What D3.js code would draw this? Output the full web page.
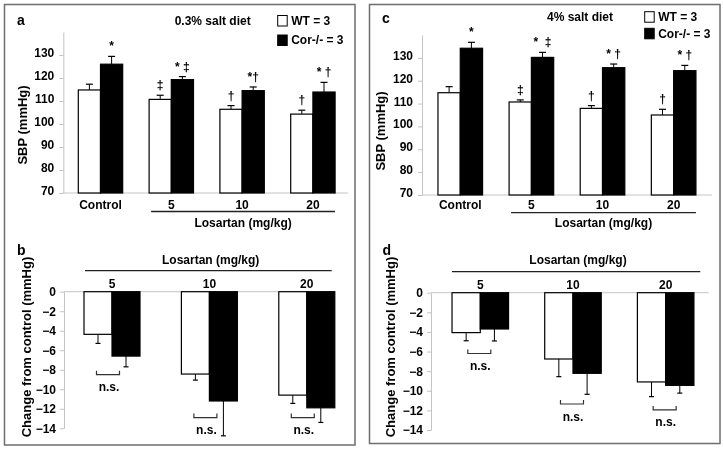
<!DOCTYPE html>
<html>
<head>
<meta charset="utf-8">
<script src="https://cdn.jsdelivr.net/npm/d3@7"></script>
<style>
  html, body { margin: 0; padding: 0; background: #fff; }
  svg { display: block; will-change: transform; }
  text { font-family: "Liberation Sans", Arial, Helvetica, sans-serif; font-weight: bold; fill: #000; }
</style>
</head>
<body>
<svg id="chart" width="724" height="450"></svg>
<script>
// ---------- data ----------
const categoriesTop = ["Control", "5", "10", "20"];
const doses = ["5", "10", "20"];
const seriesKeys = ["WT", "Cor"];
const legendLabels = ["WT = 3", "Cor-/- = 3"];
const yTicksTop = [70, 80, 90, 100, 110, 120, 130];
const yTicksChange = [0, -2, -4, -6, -8, -10, -12, -14];
const doseTitle = "Losartan (mg/kg)";
const changeLabel = "Change from control (mmHg)";
const sbpLabel = "SBP (mmHg)";

// panel a: 0.3% salt diet
const a_wt = [114.8, 110.7, 106.4, 104.3];
const a_wtErr = [2.5, 1.8, 1.6, 1.7];
const a_cor = [126.0, 119.3, 114.5, 113.9];
const a_corErr = [3.4, 1.3, 1.6, 4.2];
const a_sigWT = ["", "‡", "†", "†"];
const a_sigCor = ["*", "* ‡", "*†", "* †"];

// panel c: 4% salt diet
const c_wt = [114.75, 110.7, 107.9, 105.0];
const c_wtErr = [2.65, 0.9, 1.2, 2.5];
const c_cor = [134.2, 130.2, 125.7, 124.4];
const c_corErr = [2.6, 2.2, 1.6, 2.3];
const c_sigWT = ["", "‡", "†", "†"];
const c_sigCor = ["*", "*  ‡", "* †", "* †"];

// panel b: change, 0.3% salt
const b_wt = [-4.37, -8.44, -10.6];
const b_wtErr = [0.93, 0.62, 0.85];
const b_cor = [-6.6, -11.2, -11.9];
const b_corErr = [1.1, 3.57, 1.5];
const b_nsY = [-8.5, -12.9, -12.9];

// panel d: change, 4% salt
const d_wt = [-4.07, -6.76, -9.1];
const d_wtErr = [0.83, 1.8, 1.5];
const d_cor = [-3.7, -8.22, -9.45];
const d_corErr = [1.22, 2.14, 0.79];
const d_nsY = [-6.2, -11.35, -11.95];

// ---------- drawing ----------
const svg = d3.select("#chart");
const AXIS_GRAY = "#c4c4c4";

// panel frames
svg.append("rect").attr("x", 4.5).attr("y", 4.5).attr("width", 350.5).attr("height", 440.5)
  .attr("fill", "none").attr("stroke", "#6e6e6e").attr("stroke-width", 1.5);
svg.append("rect").attr("x", 369.5).attr("y", 4.5).attr("width", 350.5).attr("height", 439)
  .attr("fill", "none").attr("stroke", "#6e6e6e").attr("stroke-width", 1.5);

function styleAxis(g) {
  g.select(".domain").attr("stroke", AXIS_GRAY).attr("stroke-width", 1);
  g.selectAll(".tick line").attr("stroke", AXIS_GRAY);
  g.selectAll(".tick text").attr("font-size", 12).attr("font-weight", "bold")
    .attr("font-family", "Liberation Sans, Arial, sans-serif").attr("fill", "#000");
}

function drawTop(p) {
  const g = svg.append("g");
  const y = d3.scaleLinear().domain([70, 140]).range(p.yRange);
  const x = d3.scaleBand().domain(categoriesTop).range(p.xRange).paddingInner(0.373).paddingOuter(0.1865);
  const xs = d3.scaleBand().domain(seriesKeys).range([0, x.bandwidth()]);

  const ax = g.append("g").attr("transform", `translate(${p.axisX},0)`)
    .call(d3.axisLeft(y).tickValues(yTicksTop).tickSize(4).tickSizeOuter(0).tickPadding(5));
  styleAxis(ax);
  ax.selectAll(".tick text").attr("dy", "0.12em");
  g.append("line").attr("x1", p.axisX).attr("x2", p.baseEnd).attr("y1", y(70)).attr("y2", y(70))
    .attr("stroke", AXIS_GRAY);

  const rows = categoriesTop.map((c, i) => ({
    c,
    items: [
      { k: "WT", v: p.wt[i], e: p.wtErr[i], s: p.sigWT[i] },
      { k: "Cor", v: p.cor[i], e: p.corErr[i], s: p.sigCor[i] }
    ]
  }));
  rows.forEach(r => {
    r.items.forEach(it => {
      const bx = x(r.c) + xs(it.k);
      const bw = xs.bandwidth();
      const cx = bx + bw / 2;
      g.append("line").attr("x1", cx).attr("x2", cx).attr("y1", y(it.v)).attr("y2", y(it.v + it.e))
        .attr("stroke", "#000").attr("stroke-width", 1);
      g.append("line").attr("x1", cx - 3.5).attr("x2", cx + 3.5).attr("y1", y(it.v + it.e)).attr("y2", y(it.v + it.e))
        .attr("stroke", "#000").attr("stroke-width", 1.2);
      g.append("rect").attr("x", bx).attr("y", y(it.v)).attr("width", bw).attr("height", y(70) - y(it.v))
        .attr("fill", it.k === "WT" ? "#fff" : "#000").attr("stroke", "#000").attr("stroke-width", 1.2);
      if (it.s) {
        g.append("text").attr("x", cx).attr("y", y(it.v + it.e) - 6).attr("text-anchor", "middle")
          .attr("font-size", 12).style("white-space", "pre").attr("xml:space", "preserve").text(it.s);
      }
    });
    g.append("text").attr("x", x(r.c) + x.bandwidth() / 2).attr("y", p.catY).attr("text-anchor", "middle")
      .attr("font-size", 12).text(r.c);
  });

  const lx1 = x("5") + 2, lx2 = x("20") + x.bandwidth();
  g.append("line").attr("x1", lx1).attr("x2", lx2).attr("y1", p.lineY).attr("y2", p.lineY)
    .attr("stroke", "#222").attr("stroke-width", 1.3);
  g.append("text").attr("x", (lx1 + lx2) / 2).attr("y", p.losY).attr("text-anchor", "middle")
    .attr("font-size", 12).text(doseTitle);

  g.append("text").attr("transform", `translate(${p.yLabX},${p.yLabY}) rotate(-90)`)
    .attr("text-anchor", "middle").attr("font-size", 13).text(sbpLabel);

  g.append("text").attr("x", p.titleX).attr("y", p.titleY).attr("text-anchor", "middle")
    .attr("font-size", 12).text(p.title);
  g.append("text").attr("x", p.letterX).attr("y", p.letterY).attr("font-size", 14).text(p.letter);

  legendLabels.forEach((lab, i) => {
    const ly = p.legY[i];
    g.append("rect").attr("x", p.legX).attr("y", ly - 5).attr("width", 9.5).attr("height", 10.5)
      .attr("fill", i === 0 ? "#fff" : "#000").attr("stroke", "#000").attr("stroke-width", 1);
    g.append("text").attr("x", p.legX + 13.5).attr("y", ly + 4.3).attr("font-size", 12).text(lab);
  });
}

function drawChange(p) {
  const g = svg.append("g");
  const y = d3.scaleLinear().domain([-14, 0]).range(p.yRange);
  const x = d3.scaleBand().domain(doses).range(p.xRange).paddingInner(p.pad).paddingOuter(p.pad / 2);
  const xs = d3.scaleBand().domain(seriesKeys).range([0, x.bandwidth()]);

  const ax = g.append("g").attr("transform", `translate(${p.axisX},0)`)
    .call(d3.axisLeft(y).tickValues(yTicksChange).tickSize(4).tickSizeOuter(0).tickPadding(4));
  styleAxis(ax);
  g.append("line").attr("x1", p.axisX).attr("x2", p.zeroEnd).attr("y1", y(0)).attr("y2", y(0))
    .attr("stroke", AXIS_GRAY);

  doses.forEach((dz, i) => {
    const items = [
      { k: "WT", v: p.wt[i], e: p.wtErr[i] },
      { k: "Cor", v: p.cor[i], e: p.corErr[i] }
    ];
    items.forEach(it => {
      const bx = x(dz) + xs(it.k);
      const bw = xs.bandwidth();
      const cx = bx + bw / 2;
      g.append("line").attr("x1", cx).attr("x2", cx).attr("y1", y(it.v)).attr("y2", y(it.v - it.e))
        .attr("stroke", "#000").attr("stroke-width", 1);
      g.append("line").attr("x1", cx - 2.5).attr("x2", cx + 2.5).attr("y1", y(it.v - it.e)).attr("y2", y(it.v - it.e))
        .attr("stroke", "#000").attr("stroke-width", 1.2);
      g.append("rect").attr("x", bx).attr("y", y(0)).attr("width", bw).attr("height", y(it.v) - y(0))
        .attr("fill", it.k === "WT" ? "#fff" : "#000").attr("stroke", "#000").attr("stroke-width", 1.2);
    });
    const gc = x(dz) + x.bandwidth() / 2 + p.bracketShift;
    const by = y(p.ns[i]);
    g.append("path").attr("d", `M${gc - 11.5},${by - 4}V${by}H${gc + 11.5}V${by - 4}`)
      .attr("fill", "none").attr("stroke", "#333").attr("stroke-width", 1.2);
    g.append("text").attr("x", gc + 1).attr("y", by + 16.5).attr("text-anchor", "middle")
      .attr("font-size", 12).text("n.s.");
    g.append("text").attr("x", x(dz) + x.bandwidth() / 2).attr("y", p.doseY).attr("text-anchor", "middle")
      .attr("font-size", 12).text(dz);
  });

  g.append("line").attr("x1", p.lineX[0]).attr("x2", p.lineX[1]).attr("y1", p.lineY).attr("y2", p.lineY)
    .attr("stroke", "#222").attr("stroke-width", 1.3);
  g.append("text").attr("x", p.losX).attr("y", p.losY).attr("text-anchor", "middle")
    .attr("font-size", 12).text(doseTitle);
  g.append("text").attr("transform", `translate(${p.yLabX},${p.yLabY}) rotate(-90)`)
    .attr("text-anchor", "middle").attr("font-size", 13).text(changeLabel);
  g.append("text").attr("x", p.letterX).attr("y", p.letterY).attr("font-size", 14).text(p.letter);
}

drawTop({
  wt: a_wt, wtErr: a_wtErr, cor: a_cor, corErr: a_corErr, sigWT: a_sigWT, sigCor: a_sigCor,
  yRange: [193, 32], xRange: [65.1, 348.3], axisX: 63.3, baseEnd: 348,
  catY: 208.5, lineY: 211.5, losY: 226.5, yLabX: 27, yLabY: 125,
  title: "0.3% salt diet", titleX: 212.7, titleY: 25, letter: "a", letterX: 17, letterY: 24.5,
  legX: 277.7, legY: [20.5, 40]
});
drawTop({
  wt: c_wt, wtErr: c_wtErr, cor: c_cor, corErr: c_corErr, sigWT: c_sigWT, sigCor: c_sigCor,
  yRange: [195, 35], xRange: [424.7, 709.2], axisX: 422, baseEnd: 712,
  catY: 208.5, lineY: 212.7, losY: 227, yLabX: 385, yLabY: 131,
  title: "4% salt diet", titleX: 580, titleY: 21, letter: "c", letterX: 382, letterY: 23.3,
  legX: 644.7, legY: [16.7, 33.3]
});
drawChange({
  wt: b_wt, wtErr: b_wtErr, cor: b_cor, corErr: b_corErr, ns: b_nsY,
  yRange: [428.3, 291.7], xRange: [63.3, 355.5], pad: 0.425, axisX: 64, zeroEnd: 335,
  bracketShift: -4, doseY: 287.8, lineX: [85, 331.7], lineY: 270.7, losX: 210.7, losY: 263.8,
  yLabX: 31, yLabY: 347, letter: "b", letterX: 17, letterY: 255
});
drawChange({
  wt: d_wt, wtErr: d_wtErr, cor: d_cor, corErr: d_corErr, ns: d_nsY,
  yRange: [430, 292.7], xRange: [433.95, 712], pad: 0.39, axisX: 431, zeroEnd: 708.7,
  bracketShift: -1, doseY: 289.3, lineX: [452, 700.3], lineY: 271.7, losX: 578, losY: 264.3,
  yLabX: 394.5, yLabY: 347, letter: "d", letterX: 382.5, letterY: 254.5
});
</script>
</body>
</html>
